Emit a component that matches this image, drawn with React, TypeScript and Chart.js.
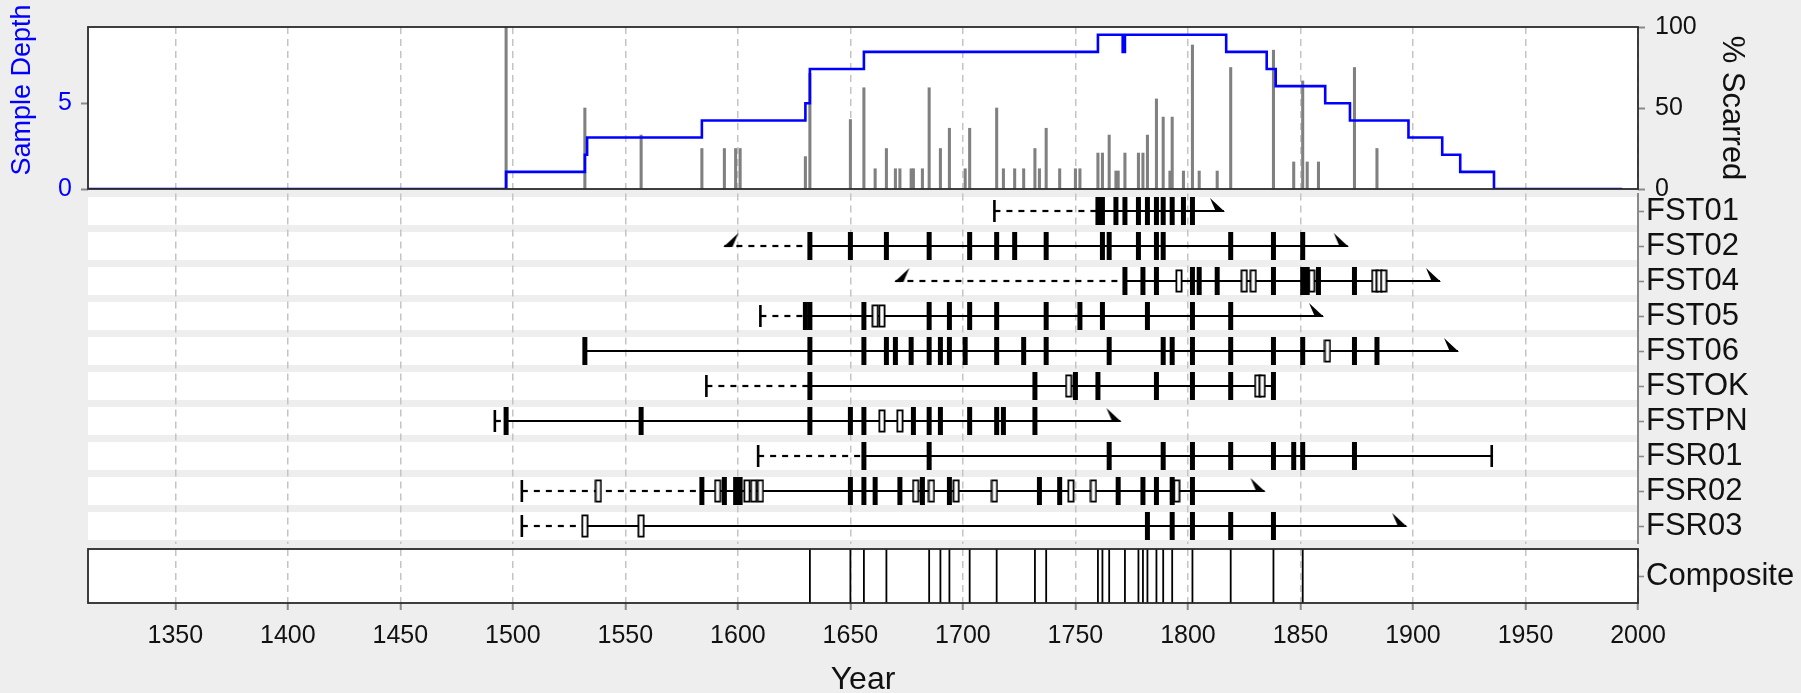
import React, { useEffect, useRef } from 'react';
import { Chart, registerables } from 'chart.js';

Chart.register(...registerables);

const FONT = '"Liberation Sans", Arial, Helvetica, sans-serif';
const BLUE = '#0000FF';
const GRID = '#C4C4C4';
const TICKC = '#8A8A8A';
const TEXT = '#111111';

const X_MIN = 1311.2;
const X_MAX = 2000;
const YEAR_TICKS = [1350, 1400, 1450, 1500, 1550, 1600, 1650, 1700, 1750, 1800, 1850, 1900, 1950, 2000];
const DEPTH_TICKS = [0, 5];
const PCT_TICKS = [0, 50, 100];

// sample depth (step changes)
const DEPTH_YEARS = [1311.2, 1497, 1532, 1533, 1584, 1630, 1632, 1656, 1760, 1771, 1772, 1817, 1835, 1839, 1861, 1872, 1898, 1913, 1921, 1936, 1993];
const DEPTH_VALUES = [0, 1, 2, 3, 4, 5, 7, 8, 9, 8, 9, 8, 7, 6, 5, 4, 3, 2, 1, 0, 0];

// percent scarred
const PCT_YEARS = [1497, 1532, 1557, 1584, 1594, 1599, 1601, 1630, 1632, 1650, 1656, 1661, 1666, 1670, 1672, 1677, 1678, 1682, 1685, 1690, 1694, 1701, 1703, 1715, 1718, 1723, 1727, 1732, 1734, 1737, 1743, 1750, 1752, 1760, 1762, 1765, 1768, 1769, 1772, 1778, 1780, 1782, 1786, 1789, 1792, 1793, 1798, 1802, 1805, 1813, 1819, 1838, 1847, 1851, 1853, 1858, 1874, 1884];
const PCT_VALUES = [100, 50, 33.3, 25, 25, 25, 25, 20, 71.4, 42.9, 62.5, 12.5, 25, 12.5, 12.5, 12.5, 12.5, 12.5, 62.5, 25, 37.5, 12.5, 37.5, 50, 12.5, 12.5, 12.5, 25, 12.5, 37.5, 12.5, 12.5, 12.5, 22.2, 22.2, 33.3, 11.1, 11.1, 22.2, 22.2, 22.2, 33.3, 55.6, 44.4, 11.1, 44.4, 11.1, 88.9, 11.1, 11.1, 75, 85.7, 16.7, 66.7, 16.7, 16.7, 75, 25];

const SERIES_NAMES = ['FST01', 'FST02', 'FST04', 'FST05', 'FST06', 'FSTOK', 'FSTPN', 'FSR01', 'FSR02', 'FSR03'];
const INNER_YEARS = [1714, 1594, 1670, 1610, 1532, 1586, 1492, 1609, 1504, 1504];
const INNER_TYPES = ['inner', 'pith', 'pith', 'inner', 'none', 'inner', 'inner', 'inner', 'inner', 'inner'];
const RECORDER_START = [1760, 1632, 1772, 1630, 1532, 1632, 1497, 1656, 1584, 1532];
const OUTER_YEARS = [1816, 1871, 1912, 1860, 1920, 1838, 1770, 1935, 1834, 1897];
const OUTER_TYPES = ['bark', 'bark', 'bark', 'bark', 'bark', 'none', 'bark', 'outer', 'bark', 'bark'];

const FST01_SCARS = [1760, 1762, 1768, 1772, 1778, 1782, 1786, 1789, 1793, 1798, 1802];
const FST01_INJURIES: number[] = [];
const FST02_SCARS = [1632, 1650, 1666, 1685, 1703, 1715, 1723, 1737, 1762, 1765, 1778, 1786, 1789, 1819, 1838, 1851];
const FST02_INJURIES: number[] = [];
const FST04_SCARS = [1772, 1780, 1786, 1802, 1805, 1813, 1838, 1851, 1853, 1858, 1874];
const FST04_INJURIES = [1796, 1825, 1829, 1855, 1883, 1885, 1887];
const FST05_SCARS = [1630, 1632, 1656, 1685, 1694, 1703, 1715, 1737, 1752, 1762, 1782, 1802, 1819];
const FST05_INJURIES = [1661, 1664];
const FST06_SCARS = [1532, 1632, 1656, 1666, 1670, 1677, 1685, 1690, 1694, 1701, 1715, 1727, 1737, 1765, 1789, 1793, 1802, 1819, 1838, 1851, 1874, 1884];
const FST06_INJURIES = [1862];
const FSTOK_SCARS = [1632, 1732, 1750, 1760, 1786, 1802, 1819, 1838];
const FSTOK_INJURIES = [1747, 1831, 1833];
const FSTPN_SCARS = [1497, 1557, 1632, 1650, 1656, 1678, 1685, 1690, 1703, 1715, 1718, 1732];
const FSTPN_INJURIES = [1664, 1672];
const FSR01_SCARS = [1656, 1685, 1765, 1789, 1802, 1819, 1838, 1847, 1851, 1874];
const FSR01_INJURIES: number[] = [];
const FSR02_SCARS = [1584, 1594, 1599, 1601, 1650, 1656, 1661, 1672, 1682, 1694, 1734, 1743, 1769, 1780, 1786, 1793, 1802];
const FSR02_INJURIES = [1538, 1591, 1604, 1607, 1610, 1679, 1686, 1697, 1714, 1748, 1758, 1795];
const FSR03_SCARS = [1782, 1793, 1802, 1819, 1838];
const FSR03_INJURIES = [1532, 1557];

const COMPOSITE_YEARS = [1632, 1650, 1656, 1666, 1685, 1690, 1694, 1703, 1715, 1732, 1737, 1760, 1762, 1765, 1772, 1778, 1780, 1782, 1786, 1789, 1793, 1802, 1819, 1838, 1851];

const ALL_SCARS = [FST01_SCARS, FST02_SCARS, FST04_SCARS, FST05_SCARS, FST06_SCARS, FSTOK_SCARS, FSTPN_SCARS, FSR01_SCARS, FSR02_SCARS, FSR03_SCARS];
const ALL_INJURIES = [FST01_INJURIES, FST02_INJURIES, FST04_INJURIES, FST05_INJURIES, FST06_INJURIES, FSTOK_INJURIES, FSTPN_INJURIES, FSR01_INJURIES, FSR02_INJURIES, FSR03_INJURIES];

const W = 1801;
const H1 = 230;
const TOP2 = 150;
const H2 = 440;
const TOP3 = 500;
const H3 = 193;
const LEFT_W = 88;
const RIGHT_W = W - 1638;

function makeCanvas(w: number, h: number, draw: (c: CanvasRenderingContext2D) => void) {
  const c = document.createElement('canvas');
  c.width = w;
  c.height = h;
  const ctx = c.getContext('2d')!;
  draw(ctx);
  return c;
}

const fixTicks = (vals: number[]) => (s: any) => {
  s.ticks = vals.map((v) => ({ value: v }));
};

const xScaleBase = () => ({
  type: 'linear' as const,
  min: X_MIN,
  max: X_MAX,
  offset: false,
  afterBuildTicks: fixTicks(YEAR_TICKS),
  border: { display: false, dash: [7, 5] },
});

export default function App() {
  const r1 = useRef<HTMLCanvasElement>(null);
  const r2 = useRef<HTMLCanvasElement>(null);
  const r3 = useRef<HTMLCanvasElement>(null);

  useEffect(() => {
    document.body.style.margin = '0';
    const charts: Chart[] = [];

    const panelPlugin = (stroke: boolean) => ({
      id: 'panelbox',
      beforeDraw(chart: any) {
        const { ctx, chartArea: a } = chart;
        ctx.save();
        ctx.fillStyle = '#FFFFFF';
        ctx.fillRect(a.left, a.top, a.right - a.left, a.bottom - a.top);
        ctx.restore();
      },
      afterDraw(chart: any) {
        if (!stroke) return;
        const { ctx, chartArea: a } = chart;
        ctx.save();
        ctx.strokeStyle = '#2A2A2A';
        ctx.lineWidth = 1.8;
        ctx.strokeRect(a.left, a.top, a.right - a.left, a.bottom - a.top);
        ctx.restore();
      },
    });

    // ---------- top panel ----------
    const depthTitle = {
      id: 'depthTitle',
      afterDraw(chart: any) {
        const { ctx } = chart;
        ctx.save();
        ctx.translate(23, 90);
        ctx.rotate(-Math.PI / 2);
        ctx.font = `27px ${FONT}`;
        ctx.fillStyle = BLUE;
        ctx.textAlign = 'center';
        ctx.textBaseline = 'middle';
        ctx.fillText('Sample Depth', 0, 0);
        ctx.restore();
      },
    };

    charts.push(
      new Chart(r1.current!, {
        type: 'bar',
        data: {
          datasets: [
            {
              type: 'line',
              data: DEPTH_YEARS.map((x, i) => ({ x, y: DEPTH_VALUES[i] })),
              yAxisID: 'y',
              stepped: 'before',
              borderColor: BLUE,
              borderWidth: 2.6,
              pointRadius: 0,
              fill: false,
              order: 0,
            } as any,
            {
              type: 'bar',
              data: PCT_YEARS.map((x, i) => ({ x, y: PCT_VALUES[i] })),
              yAxisID: 'y1',
              backgroundColor: '#808080',
              barThickness: 2.4,
              order: 1,
            } as any,
          ],
        },
        options: {
          responsive: false,
          animation: false,
          events: [],
          layout: { padding: { top: 27, left: 0, right: 0, bottom: 0 } },
          plugins: { legend: { display: false }, tooltip: { enabled: false } },
          scales: {
            x: {
              ...xScaleBase(),
              ticks: { display: false },
              grid: { color: GRID, lineWidth: 1.5, drawTicks: false, offset: false },
              afterFit: (s: any) => {
                s.height = H1 - 189;
              },
            } as any,
            y: {
              type: 'linear',
              position: 'left',
              min: 0,
              max: 9.45,
              afterBuildTicks: fixTicks(DEPTH_TICKS),
              ticks: { color: BLUE, font: { family: FONT, size: 25 }, padding: 9 },
              grid: { drawOnChartArea: false, tickLength: 7, tickColor: TICKC, tickWidth: 2 },
              border: { display: false },
              afterFit: (s: any) => {
                s.width = LEFT_W;
              },
            } as any,
            y1: {
              type: 'linear',
              position: 'right',
              min: 0,
              max: 100,
              afterBuildTicks: fixTicks(PCT_TICKS),
              ticks: { color: TEXT, font: { family: FONT, size: 25 }, padding: 10 },
              grid: { drawOnChartArea: false, tickLength: 7, tickColor: TICKC, tickWidth: 2 },
              border: { display: false },
              title: {
                display: true,
                text: '% Scarred',
                color: TEXT,
                font: { family: FONT, size: 31 },
                padding: { top: 51, bottom: 0 },
              },
              afterFit: (s: any) => {
                s.width = RIGHT_W;
              },
            } as any,
          },
        },
        plugins: [panelPlugin(true), depthTitle],
      })
    );

    // ---------- series rows ----------
    const injuryImg = makeCanvas(8, 24, (c) => {
      c.fillStyle = '#FFFFFF';
      c.fillRect(1, 1, 6, 22);
      c.strokeStyle = '#000000';
      c.lineWidth = 1.8;
      c.strokeRect(1.4, 1.4, 5.2, 21.2);
    });
    const barkImg = makeCanvas(36, 32, (c) => {
      c.fillStyle = '#000000';
      c.beginPath();
      c.moveTo(19, 17);
      c.lineTo(4, 3);
      c.lineTo(10, 17);
      c.closePath();
      c.fill();
    });
    const pithImg = makeCanvas(36, 32, (c) => {
      c.fillStyle = '#000000';
      c.beginPath();
      c.moveTo(17, 17);
      c.lineTo(32, 3);
      c.lineTo(26, 17);
      c.closePath();
      c.fill();
    });

    const lineSets: any[] = [];
    SERIES_NAMES.forEach((_, i) => {
      if (INNER_YEARS[i] < RECORDER_START[i]) {
        lineSets.push({
          type: 'line',
          data: [
            { x: INNER_YEARS[i], y: i },
            { x: RECORDER_START[i], y: i },
          ],
          borderColor: '#000000',
          borderWidth: 2.2,
          borderDash: [6, 6],
          pointRadius: 0,
          fill: false,
          order: 5,
        });
      }
      lineSets.push({
        type: 'line',
        data: [
          { x: RECORDER_START[i], y: i },
          { x: OUTER_YEARS[i], y: i },
        ],
        borderColor: '#000000',
        borderWidth: 2.2,
        pointRadius: 0,
        fill: false,
        order: 5,
      });
    });

    const tickPts: any[] = [];
    const pithPts: any[] = [];
    const barkPts: any[] = [];
    SERIES_NAMES.forEach((_, i) => {
      if (INNER_TYPES[i] === 'inner') tickPts.push({ x: INNER_YEARS[i], y: i });
      if (INNER_TYPES[i] === 'pith') pithPts.push({ x: INNER_YEARS[i], y: i });
      if (OUTER_TYPES[i] === 'outer') tickPts.push({ x: OUTER_YEARS[i], y: i });
      if (OUTER_TYPES[i] === 'bark') barkPts.push({ x: OUTER_YEARS[i], y: i });
    });
    const scarPts = ALL_SCARS.flatMap((arr, i) => arr.map((x) => ({ x, y: i })));
    const injPts = ALL_INJURIES.flatMap((arr, i) => arr.map((x) => ({ x, y: i })));

    const bandPlugin = {
      id: 'bands',
      beforeDraw(chart: any) {
        const { ctx, chartArea: a } = chart;
        const ys = chart.scales.y;
        ctx.save();
        ctx.fillStyle = '#FFFFFF';
        SERIES_NAMES.forEach((_, i) => {
          const c = ys.getPixelForValue(i);
          ctx.fillRect(a.left, c - 14, a.right - a.left, 28);
        });
        ctx.restore();
      },
    };

    charts.push(
      new Chart(r2.current!, {
        type: 'scatter',
        data: {
          datasets: [
            ...lineSets,
            {
              data: tickPts,
              pointStyle: 'line',
              pointRotation: 90,
              pointRadius: 11,
              pointBorderWidth: 2.6,
              pointBorderColor: '#000000',
              order: 3,
            },
            { data: pithPts, pointStyle: pithImg, pointRadius: 6, order: 3 },
            { data: barkPts, pointStyle: barkImg, pointRadius: 6, order: 3 },
            { data: injPts, pointStyle: injuryImg, pointRadius: 6, order: 2 },
            {
              data: scarPts,
              pointStyle: 'line',
              pointRotation: 90,
              pointRadius: 14,
              pointBorderWidth: 5,
              pointBorderColor: '#000000',
              order: 1,
            },
          ] as any,
        },
        options: {
          responsive: false,
          animation: false,
          events: [],
          layout: { padding: { top: 193.5 - TOP2, left: LEFT_W, right: 0, bottom: TOP2 + H2 - 543.5 } },
          plugins: { legend: { display: false }, tooltip: { enabled: false } },
          scales: {
            x: {
              ...xScaleBase(),
              ticks: { display: false },
              grid: { color: GRID, lineWidth: 1.5, drawTicks: false },
              afterFit: (s: any) => {
                s.height = 0;
              },
            } as any,
            y: {
              type: 'linear',
              position: 'right',
              reverse: true,
              min: -0.5,
              max: 9.5,
              afterBuildTicks: fixTicks(SERIES_NAMES.map((_, i) => i)),
              ticks: {
                color: TEXT,
                font: { family: FONT, size: 31 },
                padding: 2,
                autoSkip: false,
                callback: (v: any) => SERIES_NAMES[v] ?? '',
              },
              grid: { drawOnChartArea: false, tickLength: 6, tickColor: TICKC, tickWidth: 1.6 },
              border: { display: true, color: TICKC, width: 2 },
              afterFit: (s: any) => {
                s.width = RIGHT_W;
              },
            } as any,
          },
        },
        plugins: [bandPlugin],
      })
    );

    // ---------- composite ----------
    charts.push(
      new Chart(r3.current!, {
        type: 'scatter',
        data: {
          datasets: [
            {
              data: COMPOSITE_YEARS.map((x) => ({ x, y: 0.5 })),
              pointStyle: 'line',
              pointRotation: 90,
              pointRadius: 27,
              pointBorderWidth: 1.8,
              pointBorderColor: '#000000',
            },
          ] as any,
        },
        options: {
          responsive: false,
          animation: false,
          events: [],
          layout: { padding: { top: 549 - TOP3, left: LEFT_W, right: 0, bottom: 0 } },
          plugins: { legend: { display: false }, tooltip: { enabled: false } },
          scales: {
            x: {
              ...xScaleBase(),
              ticks: {
                color: TEXT,
                font: { family: FONT, size: 25 },
                padding: 11,
                maxRotation: 0,
                autoSkip: false,
                callback: (v: any) => String(v),
              },
              grid: { color: GRID, lineWidth: 1.5, tickLength: 7, tickColor: TICKC, tickWidth: 2 },
              title: {
                display: true,
                text: 'Year',
                color: TEXT,
                font: { family: FONT, size: 32, lineHeight: 0.8 },
                padding: 0,
              },
              afterFit: (s: any) => {
                s.height = 693 - 603;
              },
            } as any,
            y: {
              type: 'linear',
              position: 'right',
              min: 0,
              max: 1,
              afterBuildTicks: fixTicks([0.5]),
              ticks: {
                color: TEXT,
                font: { family: FONT, size: 31 },
                padding: 2,
                callback: () => 'Composite',
              },
              grid: { drawOnChartArea: false, tickLength: 6, tickColor: TICKC, tickWidth: 1.6 },
              border: { display: false },
              afterFit: (s: any) => {
                s.width = RIGHT_W;
              },
            } as any,
          },
        },
        plugins: [panelPlugin(true)],
      })
    );

    return () => charts.forEach((c) => c.destroy());
  }, []);

  return (
    <div
      style={{
        position: 'absolute',
        left: 0,
        top: 0,
        width: W,
        height: 693,
        background: '#EEEEEE',
        overflow: 'hidden',
      }}
    >
      <canvas ref={r1} width={W} height={H1} style={{ position: 'absolute', left: 0, top: 0, width: W, height: H1 }} />
      <canvas ref={r2} width={W} height={H2} style={{ position: 'absolute', left: 0, top: TOP2, width: W, height: H2 }} />
      <canvas ref={r3} width={W} height={H3} style={{ position: 'absolute', left: 0, top: TOP3, width: W, height: H3 }} />
    </div>
  );
}
